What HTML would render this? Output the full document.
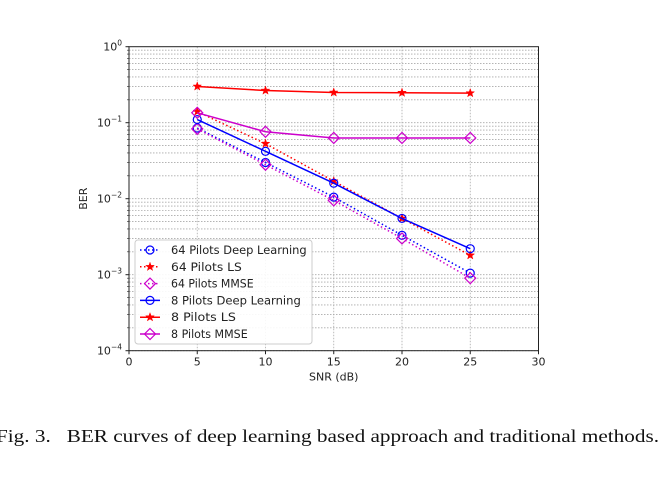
<!DOCTYPE html>
<html><head><meta charset="utf-8">
<style>
html,body{margin:0;padding:0;background:#fff;}
svg{display:block;}
</style></head>
<body>
<svg id="chart" width="666" height="477" xmlns="http://www.w3.org/2000/svg" font-family="'DejaVu Sans', sans-serif">
<g id="grid"></g>
<g id="axes"></g>
<g id="series"></g>
<g id="legend"></g>
<text x="-4" y="442" font-family="'Liberation Serif', serif" font-size="18" textLength="663" lengthAdjust="spacingAndGlyphs" fill="#111">Fig. 3.&#160;&#160;&#160;BER curves of deep learning based approach and traditional methods.</text>
</svg>
<script>
const snr = [5, 10, 15, 20, 25];
const dl64 = [0.085, 0.030, 0.0105, 0.0033, 0.00105];
const ls64 = [0.14, 0.053, 0.017, 0.0055, 0.0018];
const mmse64 = [0.083, 0.028, 0.0095, 0.0030, 0.0009];
const dl8 = [0.11, 0.042, 0.016, 0.0055, 0.0022];
const ls8 = [0.30, 0.265, 0.25, 0.248, 0.245];
const mmse8 = [0.135, 0.076, 0.063, 0.063, 0.063];
const xTicks = [0, 5, 10, 15, 20, 25, 30];
const yDecades = [-4, -3, -2, -1, 0];
const seriesNames = ['64 Pilots Deep Learning','64 Pilots LS','64 Pilots MMSE','8 Pilots Deep Learning','8 Pilots LS','8 Pilots MMSE'];

const NS = 'http://www.w3.org/2000/svg';
const L = 129, R = 538.5, T = 46.7, B = 350.7;
const xs = v => L + (v - 0) / 30 * (R - L);
const ys = v => B - (Math.log10(v) + 4) / 4 * (B - T);
function mk(tag, attrs, parent) {
  const e = document.createElementNS(NS, tag);
  for (const k in attrs) e.setAttribute(k, attrs[k]);
  parent.appendChild(e);
  return e;
}
const grid = document.getElementById('grid');
const axes = document.getElementById('axes');
const series = document.getElementById('series');
const legend = document.getElementById('legend');

for (let d = -4; d < 0; d++) {
  for (let m = 1; m <= 9; m++) {
    const y = ys(m * Math.pow(10, d));
    const g = mk('line', {x1: L, x2: R, y1: y, y2: y, stroke: '#aaa', 'stroke-width': 0.8, 'stroke-dasharray': '1.5,1.5'}, grid);
    
    
  }
}
xTicks.forEach(t => {
  const g = mk('line', {x1: xs(t), x2: xs(t), y1: T, y2: B, stroke: '#aaa', 'stroke-width': 0.8, 'stroke-dasharray': '1.5,1.5'}, grid);
  
  
});
const fr = mk('rect', {x: L, y: T, width: R - L, height: B - T, fill: 'none', stroke: '#222', 'stroke-width': 1}, axes);


xTicks.forEach(t => {
  mk('line', {x1: xs(t), x2: xs(t), y1: B, y2: B + 3.5, stroke: '#222'}, axes);
  const tx = mk('text', {x: xs(t), y: B + 15, 'text-anchor': 'middle', 'font-size': 11, fill: '#222'}, axes);
  tx.textContent = t;
  
  
});
yDecades.forEach(d => {
  const y = ys(Math.pow(10, d));
  mk('line', {x1: L - 3.5, x2: L, y1: y, y2: y, stroke: '#222'}, axes);
  for (let m = 2; m <= 9 && d < 0; m++) {
    const ym = ys(m * Math.pow(10, d));
    mk('line', {x1: L - 2, x2: L, y1: ym, y2: ym, stroke: '#222', 'stroke-width': 0.6}, axes);
  }
  const tx = mk('text', {x: L - 7, y: y + 4, 'text-anchor': 'end', 'font-size': 11, fill: '#222'}, axes);
  
  
  tx.appendChild(document.createTextNode('10'));
  const sup = mk('tspan', {dy: -5, 'font-size': 7.5}, tx);
  sup.textContent = d === 0 ? '0' : '\u2212' + (-d);
});
const xl = mk('text', {x: (L + R) / 2, y: B + 30, 'text-anchor': 'middle', 'font-size': 11, fill: '#222'}, axes);
xl.textContent = 'SNR (dB)';


const yl = mk('text', {x: 0, y: 0, 'text-anchor': 'middle', 'font-size': 11, fill: '#222', transform: `translate(${L - 42},${(T + B) / 2}) rotate(-90)`}, axes);
yl.textContent = 'BER';



function marker(type, x, y, color, parent) {
  if (type === 'o') return mk('circle', {cx: x, cy: y, r: 4, fill: 'none', stroke: color, 'stroke-width': 1.2}, parent);
  if (type === 'd') return mk('path', {d: `M${x},${y-5.5}L${x+5.5},${y}L${x},${y+5.5}L${x-5.5},${y}Z`, fill: 'none', stroke: color, 'stroke-width': 1.2}, parent);
  let p = '';
  for (let i = 0; i < 10; i++) {
    const a = -Math.PI / 2 + i * Math.PI / 5, r = i % 2 ? 1.8 : 4.5;
    p += (i ? 'L' : 'M') + (x + r * Math.cos(a)).toFixed(2) + ',' + (y + r * Math.sin(a)).toFixed(2);
  }
  return mk('path', {d: p + 'Z', fill: color, stroke: color, 'stroke-width': 0.5}, parent);
}
const defs = [
  [dl64, '#0000ff', 'o', true, 'series-64-dl'],
  [ls64, '#ff0000', 's', true, 'series-64-ls'],
  [mmse64, '#cc00cc', 'd', true, 'series-64-mmse'],
  [dl8, '#0000ff', 'o', false, 'series-8-dl'],
  [ls8, '#ff0000', 's', false, 'series-8-ls'],
  [mmse8, '#cc00cc', 'd', false, 'series-8-mmse'],
];
defs.forEach(([vals, c, m, dotted, name]) => {
  const g = mk('g', {}, series);
  
  
  const pts = snr.map((s, i) => xs(s).toFixed(2) + ',' + ys(vals[i]).toFixed(2)).join(' ');
  const pl = mk('polyline', {points: pts, fill: 'none', stroke: c, 'stroke-width': 1.5, 'stroke-dasharray': dotted ? '1.5,2.5' : 'none'}, g);
  
  
  snr.forEach((s, i) => {
    const mm = marker(m, xs(s), ys(vals[i]), c, g);
    
    
  });
});
const lb = mk('rect', {x: 135, y: 240, width: 177, height: 104, rx: 3, fill: '#fff', 'fill-opacity': 0.9, stroke: '#ccc'}, legend);


defs.forEach(([vals, c, m, dotted, name], i) => {
  const y = 250 + i * 16.8;
  const g = mk('g', {}, legend);
  
  
  mk('line', {x1: 140, x2: 160, y1: y, y2: y, stroke: c, 'stroke-width': 1.5, 'stroke-dasharray': dotted ? '1.5,2.5' : 'none'}, g);
  marker(m, 150, y, c, g);
  const t = mk('text', {x: 171, y: y + 4, 'font-size': 11.5, fill: '#222', textLength: seriesNames[i].length * 5.9, lengthAdjust: 'spacingAndGlyphs'}, g);
  t.textContent = seriesNames[i];
});
</script>
</body></html>
